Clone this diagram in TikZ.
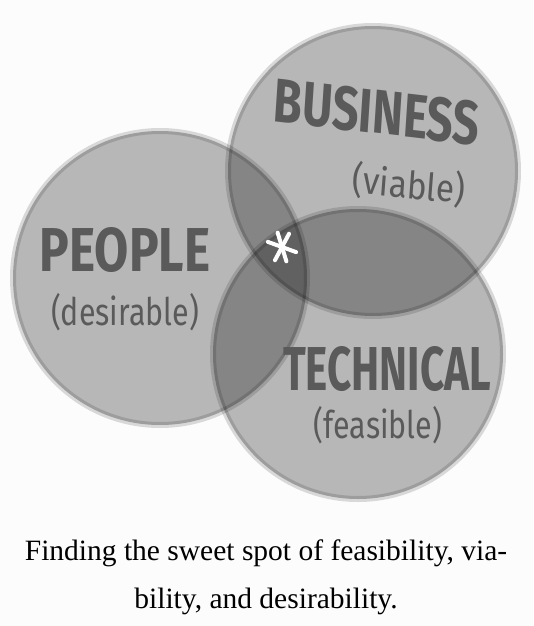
\documentclass[tikz,border=0pt]{standalone}
\usepackage{fontspec}
\usetikzlibrary{calc}
\setmainfont{Liberation Serif}
\newfontfamily\handfont{Fira Sans}
\definecolor{ink}{HTML}{5A5A5A}
\definecolor{paper}{HTML}{FCFCFC}

\begin{document}
\begin{tikzpicture}[x=1pt,y=-1pt,
  disc/.style={fill=black,fill opacity=0.27,draw=black,draw opacity=0.14,line width=6pt},
  bigword/.style={font=\handfont\bfseries\fontsize{62}{62}\selectfont,text=ink,inner sep=0pt},
  smallword/.style={font=\handfont\fontsize{38}{38}\selectfont,text=ink,inner sep=0pt}]
 \fill[paper] (0,0) rectangle (533,626);
 \useasboundingbox (0,0) rectangle (533,626);
 % the three circles
 \path[disc] (373,171) circle (145);
 \path[disc] (160,278) circle (147);
 \path[disc] (358,354) circle (145);
 % labels
 \node[bigword,xscale=0.75,rotate=-5] (business) at (377,112) {BUSINESS};
 \node[smallword,xscale=0.88,rotate=-5] (viable) at (409,185) {(viable)};
 \node[bigword,xscale=0.8] (people) at (125,250) {PEOPLE};
 \node[smallword,xscale=0.8] (desirable) at (125,312) {(desirable)};
 \node[bigword,xscale=0.68] (technical) at (387,369) {TECHNICAL};
 \node[smallword,xscale=0.8] (feasible) at (378,425) {(feasible)};
 % sweet spot
 \coordinate (spot) at (282,247);
 \foreach \a in {73,20,118}
  \draw[white,line width=4pt,line cap=round] ($(spot)+(\a:15)$) -- ($(spot)+(\a+180:15)$);
 % caption
 \node[font=\fontsize{29.5}{48}\selectfont,align=center] (caption) at (266,577)
  {Finding the sweet spot of feasibility, via-\\bility, and desirability.};
\end{tikzpicture}
\end{document}
